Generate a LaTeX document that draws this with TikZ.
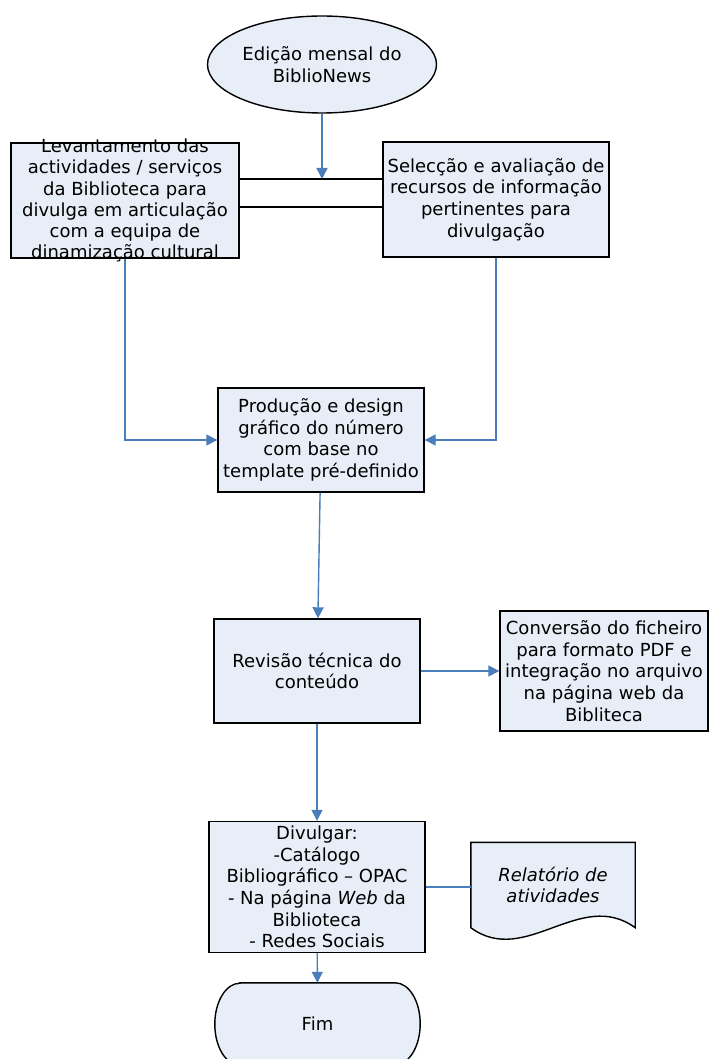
\documentclass[tikz,border=0pt]{standalone}
\usepackage{fontspec}
\setmainfont{DejaVu Sans}
\usetikzlibrary{arrows.meta,shapes.geometric,calc,backgrounds}
\definecolor{boxfill}{HTML}{E8EEF7}
\definecolor{flowblue}{HTML}{4A7EBB}

\begin{document}
\begin{tikzpicture}[x=1pt,y=-1pt,
                    font=\fontsize{18}{21.7}\selectfont,
                    box/.style={rectangle,draw=black,fill=boxfill,line width=1.4pt,inner sep=0pt,align=center},
                    oval/.style={ellipse,draw=black,fill=boxfill,line width=1.4pt,inner sep=0pt,align=center},
                    outline/.style={draw=black,fill=boxfill,line width=1.4pt},
                    flow/.style={draw=flowblue,line width=1.4pt,-{Triangle[length=11pt,width=11pt]}},
                    link/.style={draw=flowblue,line width=1.4pt},
                    bar/.style={draw=black,line width=1.4pt}
                   ]
  \useasboundingbox (0,0) rectangle (709,1059);

  \node[oval,minimum width=229,minimum height=97] (start) at (322,64.5) {Edição mensal do\\BiblioNews};
  \node[box] (lev) at (125,200.5) {\parbox[c][115pt][c]{228pt}{\centering\fontsize{18}{21.1}\selectfont
        Levantamento das\\actividades / serviços\\da Biblioteca para\\divulga em articulação\\com a equipa de\\dinamização cultural}};
  \node[box,minimum width=226,minimum height=115] (sel) at (496,199.5) {Selecção e avaliação de\\recursos de informação\\pertinentes para\\divulgação};
  \node[box,minimum width=206,minimum height=104] (prod) at (321,440) {Produção e design\\gráfico do número\\com base no\\template pré-definido};
  \node[box,minimum width=206,minimum height=104] (rev) at (317,671) {Revisão técnica do\\conteúdo};
  \node[box,minimum width=208,minimum height=120] (conv) at (604,671) {Conversão do ficheiro\\para formato PDF e\\integração no arquivo\\na página web da\\Bibliteca};
  \node[box,minimum width=216,minimum height=131] (div) at (317,887) {Divulgar:\\-Catálogo\\Bibliográfico – OPAC\\- Na página \textit{Web} da\\Biblioteca\\- Redes Sociais};
  \node[inner sep=0pt,minimum width=164,minimum height=85,align=center,font=\fontsize{18}{21.7}\selectfont\itshape] (rel) at (553,885) {Relatório de\\atividades};
  \node[inner sep=0pt,minimum width=205,minimum height=82] (fim) at (317.5,1024) {Fim};

  % document and terminator outlines behind their texts
  \begin{scope}[on background layer]
    \draw[outline] (rel.north west) -- (rel.north east) -- (rel.south east)
      .. controls ($(rel.south east)+(-55,-40)$) and ($(rel.south east)+(-110,40)$) .. (rel.south west) -- cycle;
    \draw[outline] ($(fim.north west)+(25,0)$) -- ($(fim.north east)+(-25,0)$)
      arc[start angle=-90,end angle=90,x radius=25,y radius=41]
      -- ($(fim.south west)+(25,0)$)
      arc[start angle=90,end angle=270,x radius=25,y radius=41] -- cycle;
  \end{scope}

  \coordinate (la) at ($(lev.east)+(0,-21.5)$);
  \coordinate (lb) at ($(lev.east)+(0,6.5)$);
  \draw[bar] (la) -- (la -| sel.west);
  \draw[bar] (lb) -- (lb -| sel.west);

  \draw[flow] (start) -- (start |- la);
  \draw[flow] (lev.south) |- (prod.west);
  \draw[flow] (sel.south) |- (prod.east);
  \draw[flow] (prod) -- (rev);
  \draw[flow] (rev) -- (conv);
  \draw[flow] (rev) -- (div);
  \draw[flow] (div) -- (fim);
  \draw[link] (div.east) -- (div.east -| rel.west);
\end{tikzpicture}
\end{document}
